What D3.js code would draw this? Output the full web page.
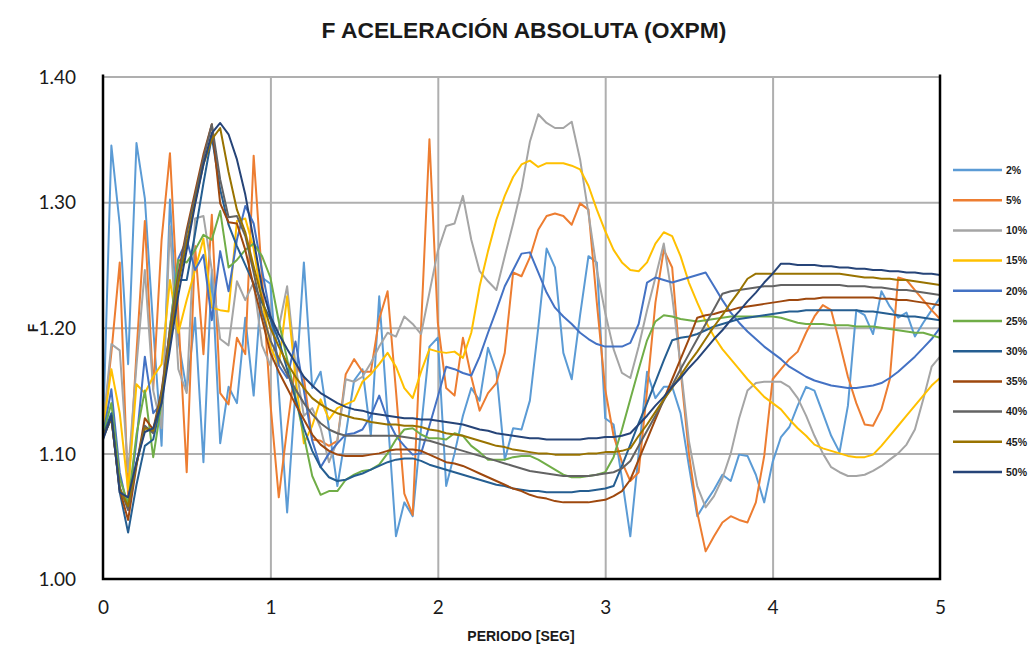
<!DOCTYPE html>
<html>
<head>
<meta charset="utf-8">
<script src="https://cdn.jsdelivr.net/npm/d3@7"></script>
<style>
  html, body { margin: 0; padding: 0; background: #fff; }
  svg { display: block; }
</style>
</head>
<body>
<svg id="chart" width="1034" height="651"></svg>
<script>
// Period axis: spectral samples every 0.05 s from 0 to 5 s
const periodo = d3.range(0, 101).map(i => +(i * 0.05).toFixed(2));

const yTicks = [1.0, 1.1, 1.2, 1.3, 1.4];
const xTicks = [0, 1, 2, 3, 4, 5];

const seriesNames = ["2%", "5%", "10%", "15%", "20%", "25%", "30%", "35%", "40%", "45%", "50%"];
const seriesColors = ["#5B9BD5", "#ED7D31", "#A5A5A5", "#FFC000", "#4472C4", "#70AD47",
                      "#255E91", "#9E480E", "#636363", "#997300", "#264478"];

const f2 = [
  1.115, 1.345, 1.282, 1.171, 1.347, 1.303, 1.200, 1.106, 1.302, 1.190,
  1.150, 1.208, 1.093, 1.246, 1.108, 1.153, 1.140, 1.208, 1.146, 1.240,
  1.235, 1.150, 1.053, 1.150, 1.252, 1.152, 1.165, 1.120, 1.074, 1.115,
  1.158, 1.167, 1.114, 1.225, 1.130, 1.034, 1.061, 1.050, 1.120, 1.185,
  1.192, 1.074, 1.100, 1.130, 1.152, 1.142, 1.184, 1.165, 1.095, 1.120,
  1.119, 1.142, 1.200, 1.263, 1.248, 1.180, 1.159, 1.210, 1.257, 1.252,
  1.128, 1.123, 1.080, 1.034, 1.100, 1.165, 1.144, 1.153, 1.153, 1.132,
  1.090, 1.050, 1.061, 1.071, 1.083, 1.078, 1.099, 1.098, 1.083, 1.061,
  1.093, 1.113, 1.121, 1.138, 1.153, 1.150, 1.132, 1.114, 1.101, 1.138,
  1.214, 1.210, 1.195, 1.229, 1.217, 1.208, 1.212, 1.193, 1.204, 1.214,
  1.224
];

const f5 = [
  1.120, 1.180, 1.252, 1.066, 1.180, 1.285, 1.151, 1.270, 1.339, 1.210,
  1.085, 1.265, 1.179, 1.290, 1.148, 1.139, 1.192, 1.179, 1.337, 1.240,
  1.140, 1.065, 1.120, 1.170, 1.160, 1.111, 1.110, 1.106, 1.110, 1.163,
  1.175, 1.165, 1.165, 1.207, 1.229, 1.150, 1.068, 1.051, 1.200, 1.350,
  1.204, 1.152, 1.146, 1.192, 1.161, 1.134, 1.148, 1.156, 1.180, 1.244,
  1.241, 1.256, 1.278, 1.289, 1.291, 1.289, 1.282, 1.299, 1.294, 1.220,
  1.151, 1.114, 1.093, 1.078, 1.085, 1.150, 1.220, 1.262, 1.248, 1.167,
  1.100, 1.053, 1.022, 1.034, 1.045, 1.050, 1.047, 1.045, 1.061, 1.098,
  1.159, 1.167, 1.175, 1.181, 1.196, 1.209, 1.218, 1.214, 1.188, 1.161,
  1.140, 1.123, 1.122, 1.135, 1.159, 1.240, 1.238, 1.230, 1.222, 1.214,
  1.207
];

const f10 = [
  1.120, 1.187, 1.182, 1.085, 1.170, 1.246, 1.150, 1.120, 1.281, 1.167,
  1.148, 1.287, 1.289, 1.246, 1.191, 1.186, 1.237, 1.222, 1.236, 1.186,
  1.170, 1.200, 1.233, 1.170, 1.130, 1.136, 1.120, 1.093, 1.110, 1.159,
  1.157, 1.161, 1.172, 1.185, 1.196, 1.193, 1.209, 1.203, 1.195, 1.228,
  1.261, 1.281, 1.283, 1.305, 1.270, 1.245, 1.237, 1.230, 1.257, 1.283,
  1.311, 1.348, 1.370, 1.363, 1.359, 1.359, 1.364, 1.334, 1.291, 1.246,
  1.212, 1.183, 1.164, 1.160, 1.185, 1.214, 1.240, 1.267, 1.225, 1.170,
  1.110, 1.074, 1.057, 1.066, 1.080, 1.100, 1.128, 1.150, 1.156, 1.157,
  1.157, 1.157, 1.153, 1.144, 1.130, 1.114, 1.100, 1.089, 1.085, 1.082,
  1.082, 1.083, 1.086, 1.090, 1.095, 1.100, 1.107, 1.119, 1.143, 1.169,
  1.177
];

const f15 = [
  1.119, 1.167, 1.132, 1.071, 1.155, 1.148, 1.161, 1.171, 1.238, 1.196,
  1.222, 1.246, 1.271, 1.216, 1.214, 1.213, 1.285, 1.287, 1.263, 1.222,
  1.185, 1.170, 1.225, 1.160, 1.108, 1.122, 1.143, 1.127, 1.136, 1.139,
  1.142, 1.157, 1.163, 1.171, 1.180, 1.169, 1.152, 1.144, 1.165, 1.183,
  1.181, 1.180, 1.181, 1.176, 1.196, 1.233, 1.261, 1.286, 1.305, 1.320,
  1.330, 1.333, 1.328, 1.331, 1.331, 1.331, 1.329, 1.326, 1.313, 1.294,
  1.277, 1.262, 1.252, 1.246, 1.245, 1.252, 1.267, 1.276, 1.273, 1.257,
  1.236, 1.220, 1.205, 1.193, 1.183, 1.175, 1.167, 1.159, 1.152, 1.145,
  1.140, 1.135, 1.127, 1.120, 1.114, 1.107, 1.104, 1.102, 1.100, 1.098,
  1.097, 1.097, 1.099, 1.106, 1.114, 1.122, 1.130, 1.138, 1.146, 1.154,
  1.160
];

const f20 = [
  1.115, 1.151, 1.085, 1.055, 1.110, 1.177, 1.132, 1.140, 1.200, 1.255,
  1.270, 1.246, 1.258, 1.206, 1.261, 1.229, 1.270, 1.297, 1.283, 1.246,
  1.210, 1.170, 1.160, 1.189, 1.150, 1.110, 1.089, 1.100, 1.108, 1.115,
  1.116, 1.119, 1.130, 1.146, 1.127, 1.114, 1.106, 1.099, 1.100, 1.122,
  1.145, 1.169, 1.167, 1.164, 1.162, 1.177, 1.196, 1.214, 1.233, 1.246,
  1.259, 1.260, 1.244, 1.228, 1.216, 1.209, 1.203, 1.196, 1.191, 1.187,
  1.185, 1.185, 1.185, 1.188, 1.203, 1.236, 1.240, 1.238, 1.236, 1.238,
  1.240, 1.242, 1.244, 1.233, 1.222, 1.212, 1.204, 1.197, 1.191, 1.185,
  1.180, 1.175, 1.169, 1.165, 1.161, 1.158, 1.156, 1.154, 1.153, 1.152,
  1.152, 1.153, 1.154, 1.156, 1.160, 1.165, 1.171, 1.177, 1.184, 1.191,
  1.200
];

const f25 = [
  1.115, 1.140, 1.080, 1.060, 1.115, 1.150, 1.097, 1.140, 1.200, 1.254,
  1.252, 1.262, 1.274, 1.270, 1.293, 1.248, 1.254, 1.262, 1.267, 1.257,
  1.240, 1.205, 1.175, 1.145, 1.114, 1.082, 1.067, 1.070, 1.070, 1.079,
  1.083, 1.086, 1.087, 1.091, 1.100, 1.111, 1.119, 1.120, 1.115, 1.112,
  1.112, 1.111, 1.116, 1.114, 1.106, 1.101, 1.095, 1.095, 1.095, 1.097,
  1.098, 1.098, 1.095, 1.091, 1.087, 1.083, 1.081, 1.081, 1.082, 1.083,
  1.085, 1.097, 1.119, 1.143, 1.167, 1.190, 1.205, 1.210, 1.209, 1.207,
  1.206, 1.205, 1.206, 1.207, 1.208, 1.209, 1.209, 1.209, 1.209, 1.209,
  1.209, 1.208, 1.206, 1.204, 1.203, 1.203, 1.203, 1.202, 1.202, 1.202,
  1.201, 1.201, 1.201, 1.200, 1.199, 1.198, 1.197, 1.196, 1.196, 1.194,
  1.192
];

const f30 = [
  1.114, 1.132, 1.069, 1.037, 1.075, 1.106, 1.111, 1.142, 1.191, 1.238,
  1.238, 1.275, 1.315, 1.352, 1.310, 1.282, 1.265, 1.250, 1.235, 1.220,
  1.207, 1.190, 1.167, 1.143, 1.120, 1.102, 1.089, 1.081, 1.078, 1.079,
  1.082, 1.084, 1.087, 1.090, 1.093, 1.095, 1.096, 1.096, 1.094, 1.091,
  1.089, 1.087, 1.085, 1.083, 1.081, 1.079, 1.077, 1.075, 1.074, 1.072,
  1.071, 1.070, 1.070, 1.069, 1.069, 1.069, 1.069, 1.070, 1.070, 1.071,
  1.072, 1.074, 1.090, 1.107, 1.124, 1.140, 1.157, 1.174, 1.190, 1.192,
  1.193, 1.195, 1.198, 1.201, 1.203, 1.205, 1.207, 1.208, 1.209, 1.210,
  1.211, 1.212, 1.213, 1.213, 1.214, 1.214, 1.214, 1.214, 1.214, 1.214,
  1.214, 1.213, 1.213, 1.212, 1.211, 1.210, 1.209, 1.209, 1.208, 1.207,
  1.206
];

const f35 = [
  1.113, 1.128, 1.071, 1.047, 1.090, 1.128, 1.119, 1.150, 1.198, 1.243,
  1.278, 1.308, 1.338, 1.362, 1.299, 1.284, 1.283, 1.262, 1.233, 1.207,
  1.180, 1.165, 1.152, 1.139, 1.127, 1.115, 1.107, 1.102, 1.099, 1.098,
  1.098, 1.098, 1.099, 1.100, 1.102, 1.103, 1.103, 1.103, 1.102, 1.099,
  1.096, 1.093, 1.092, 1.090, 1.087, 1.084, 1.081, 1.078, 1.075, 1.072,
  1.070, 1.067, 1.065, 1.064, 1.062, 1.061, 1.061, 1.061, 1.061, 1.062,
  1.063, 1.066, 1.070, 1.079, 1.095, 1.111, 1.127, 1.143, 1.159, 1.175,
  1.191, 1.208, 1.210, 1.211, 1.213, 1.214, 1.216, 1.217, 1.218, 1.219,
  1.220, 1.221, 1.222, 1.222, 1.223, 1.223, 1.224, 1.224, 1.224, 1.224,
  1.224, 1.224, 1.224, 1.223, 1.223, 1.222, 1.222, 1.221, 1.220, 1.219,
  1.218
];

const f40 = [
  1.112, 1.128, 1.073, 1.055, 1.092, 1.122, 1.116, 1.148, 1.195, 1.240,
  1.275, 1.305, 1.335, 1.362, 1.318, 1.288, 1.289, 1.273, 1.244, 1.212,
  1.190, 1.176, 1.163, 1.151, 1.140, 1.131, 1.124, 1.119, 1.116, 1.114,
  1.114, 1.114, 1.114, 1.114, 1.114, 1.114, 1.113, 1.112, 1.111, 1.110,
  1.108, 1.106, 1.104, 1.102, 1.100, 1.098, 1.096, 1.094, 1.092, 1.090,
  1.088, 1.086, 1.085, 1.084, 1.083, 1.082, 1.082, 1.082, 1.082, 1.083,
  1.084, 1.085, 1.088, 1.094, 1.106, 1.118, 1.130, 1.142, 1.154, 1.167,
  1.179, 1.191, 1.203, 1.215, 1.227, 1.229, 1.230, 1.231, 1.232, 1.233,
  1.233, 1.234, 1.234, 1.234, 1.234, 1.234, 1.234, 1.234, 1.234, 1.233,
  1.233, 1.233, 1.232, 1.232, 1.231, 1.230, 1.230, 1.229, 1.228, 1.227,
  1.226
];

const f45 = [
  1.113, 1.128, 1.072, 1.058, 1.092, 1.120, 1.118, 1.145, 1.190, 1.235,
  1.268, 1.300, 1.330, 1.350, 1.359, 1.324, 1.294, 1.276, 1.249, 1.223,
  1.200, 1.185, 1.172, 1.161, 1.152, 1.144, 1.139, 1.135, 1.132, 1.130,
  1.128, 1.127, 1.125, 1.124, 1.123, 1.123, 1.122, 1.122, 1.121, 1.119,
  1.118, 1.116, 1.115, 1.114, 1.112, 1.110, 1.108, 1.106, 1.105, 1.103,
  1.102, 1.101, 1.100, 1.100, 1.099, 1.099, 1.099, 1.099, 1.100, 1.100,
  1.101, 1.101, 1.102, 1.104, 1.114, 1.123, 1.133, 1.143, 1.152, 1.162,
  1.172, 1.181, 1.191, 1.201, 1.210, 1.220, 1.229, 1.239, 1.243, 1.243,
  1.243, 1.243, 1.243, 1.243, 1.243, 1.243, 1.243, 1.243, 1.243, 1.242,
  1.241, 1.240, 1.240, 1.239, 1.239, 1.238, 1.238, 1.237, 1.236, 1.235,
  1.234
];

const f50 = [
  1.111, 1.130, 1.069, 1.065, 1.093, 1.117, 1.120, 1.140, 1.183, 1.226,
  1.262, 1.298, 1.330, 1.355, 1.363, 1.354, 1.334, 1.306, 1.270, 1.232,
  1.209, 1.195, 1.183, 1.172, 1.161, 1.154, 1.148, 1.144, 1.140, 1.137,
  1.135, 1.134, 1.132, 1.131, 1.130, 1.129, 1.128, 1.128, 1.127, 1.127,
  1.126, 1.125, 1.124, 1.123, 1.121, 1.119, 1.118, 1.116, 1.115, 1.114,
  1.113, 1.112, 1.112, 1.111, 1.111, 1.111, 1.111, 1.111, 1.112, 1.112,
  1.113, 1.113, 1.114, 1.116, 1.123, 1.130, 1.138, 1.145, 1.153, 1.160,
  1.168, 1.175, 1.183, 1.191, 1.198, 1.206, 1.213, 1.221, 1.228, 1.236,
  1.243, 1.251, 1.251, 1.250, 1.250, 1.250, 1.249, 1.249, 1.248, 1.248,
  1.247, 1.247, 1.246, 1.246, 1.245, 1.245, 1.244, 1.244, 1.243, 1.243,
  1.242
];

const seriesValues = [f2, f5, f10, f15, f20, f25, f30, f35, f40, f45, f50];

// ---- layout ----
const svg = d3.select("#chart");
const plot = { left: 103, right: 940, top: 76.5, bottom: 579 };

const x = d3.scaleLinear().domain([0, 5]).range([plot.left, plot.right]);
const y = d3.scaleLinear().domain([1.0, 1.4]).range([plot.bottom, plot.top]);

const GRID = "#AFAFAF";
const TXT = "#1a1a1a";

// Title
svg.append("text")
  .attr("x", 524).attr("y", 38)
  .attr("text-anchor", "middle")
  .style("font-family", "'Liberation Sans', Arial, sans-serif")
  .style("font-weight", "bold").style("font-size", "22.8px")
  .style("fill", TXT)
  .text("F ACELERACIÓN ABSOLUTA (OXPM)");

// Horizontal gridlines
svg.append("g")
  .attr("transform", `translate(${plot.left},0)`)
  .call(d3.axisLeft(y).tickValues(yTicks.filter(d => d > 1.0)).tickSize(-(plot.right - plot.left)).tickFormat(""))
  .call(g => g.select(".domain").remove())
  .call(g => g.selectAll("line").attr("stroke", GRID).attr("stroke-width", 2));

// Vertical gridlines
svg.append("g")
  .attr("transform", `translate(0,${plot.bottom})`)
  .call(d3.axisBottom(x).tickValues(xTicks.filter(d => d > 0 && d < 5)).tickSize(-(plot.bottom - plot.top)).tickFormat(""))
  .call(g => g.select(".domain").remove())
  .call(g => g.selectAll("line").attr("stroke", GRID).attr("stroke-width", 2));

// Y tick labels
svg.append("g")
  .attr("transform", `translate(${plot.left},0)`)
  .call(d3.axisLeft(y).tickValues(yTicks).tickSize(0).tickPadding(27).tickFormat(d3.format(".2f")))
  .call(g => g.select(".domain").remove())
  .call(g => g.selectAll("text")
    .style("font-family", "Lato, 'Open Sans', sans-serif")
    .style("font-size", "19px").style("fill", TXT).attr("dy", "0.36em"));

// X tick labels
svg.append("g")
  .attr("transform", `translate(0,${plot.bottom})`)
  .call(d3.axisBottom(x).tickValues(xTicks).tickSize(0).tickPadding(22).tickFormat(d3.format("d")))
  .call(g => g.select(".domain").remove())
  .call(g => g.selectAll("text")
    .style("font-family", "Lato, 'Open Sans', sans-serif")
    .style("font-size", "19px").style("fill", TXT));

// Series lines
const line = d3.line()
  .x((d, i) => x(periodo[i]))
  .y(d => y(d))
  .curve(d3.curveLinear);

svg.append("clipPath").attr("id", "plotclip")
  .append("rect")
  .attr("x", plot.left).attr("y", plot.top - 4)
  .attr("width", plot.right - plot.left).attr("height", plot.bottom - plot.top + 4);

svg.append("g").attr("clip-path", "url(#plotclip)")
  .selectAll("path")
  .data(seriesValues)
  .join("path")
  .attr("d", line)
  .attr("fill", "none")
  .attr("stroke", (d, i) => seriesColors[i])
  .attr("stroke-width", 2)
  .attr("stroke-linejoin", "round");

// Plot frame (left, bottom, right)
svg.append("path")
  .attr("d", `M${plot.left},${plot.top - 2}V${plot.bottom}H${plot.right}V${plot.top - 2}`)
  .attr("fill", "none").attr("stroke", "#000").attr("stroke-width", 2.5);

// Axis titles
svg.append("text")
  .attr("x", 521).attr("y", 641)
  .attr("text-anchor", "middle")
  .style("font-family", "'Liberation Sans', Arial, sans-serif")
  .style("font-weight", "bold").style("font-size", "14px").style("fill", TXT)
  .text("PERIODO [SEG]");

svg.append("text")
  .attr("transform", "translate(38,328) rotate(-90)")
  .attr("text-anchor", "middle")
  .style("font-family", "'Liberation Sans', Arial, sans-serif")
  .style("font-weight", "bold").style("font-size", "14px").style("fill", TXT)
  .text("F");

// Legend
const legend = svg.append("g");
const legendY = d3.scaleLinear().domain([0, seriesNames.length - 1]).range([170, 472]);
seriesNames.forEach((name, i) => {
  const ly = legendY(i);
  legend.append("line")
    .attr("x1", 953).attr("x2", 1002)
    .attr("y1", ly).attr("y2", ly)
    .attr("stroke", seriesColors[i]).attr("stroke-width", 2.5);
  legend.append("text")
    .attr("x", 1006).attr("y", ly).attr("dy", "0.36em")
    .style("font-family", "'Liberation Sans', Arial, sans-serif")
    .style("font-weight", "bold").style("font-size", "10.5px").style("fill", TXT)
    .text(name);
});
</script>
</body>
</html>
